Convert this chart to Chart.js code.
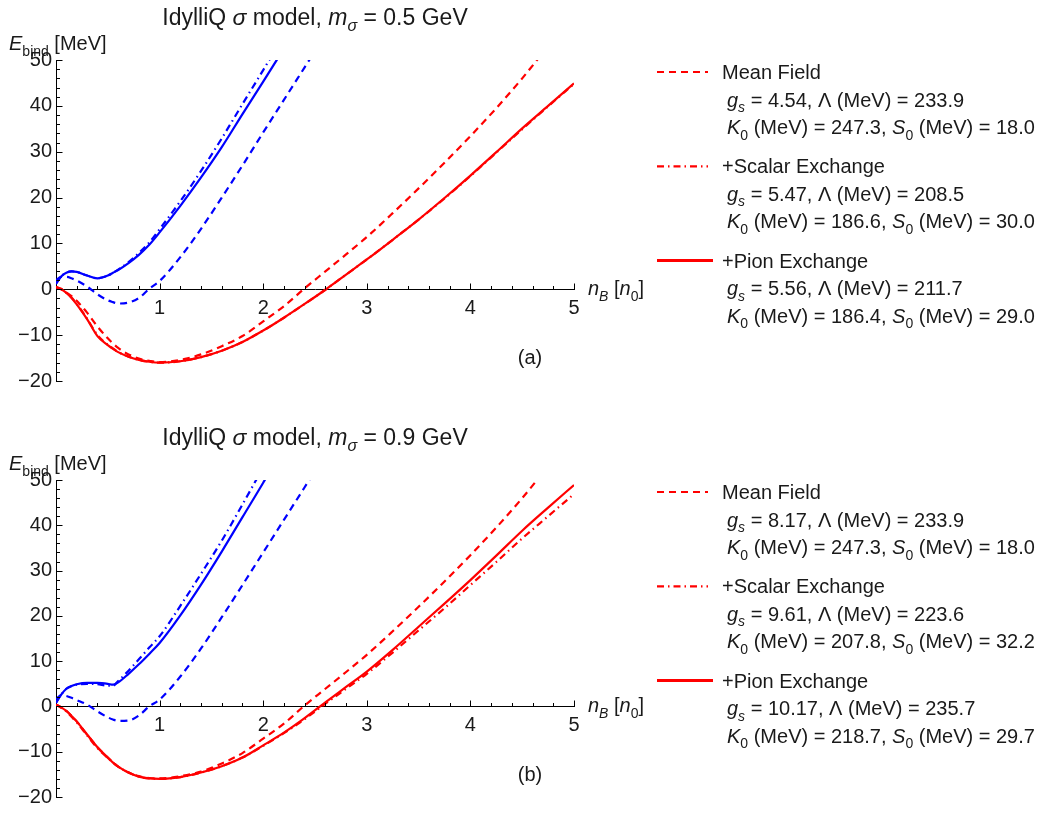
<!DOCTYPE html>
<html>
<head>
<meta charset="utf-8">
<script src="https://cdn.jsdelivr.net/npm/chart.js@4.4.1/dist/chart.umd.min.js"></script>
<style>
  body { margin: 0; background: #fff; }
  #wrap { position: relative; width: 1039px; height: 814px; }
  canvas { position: absolute; left: 0; }
  #chartA { top: 0; }
  #chartB { top: 420px; }
</style>
</head>
<body>
<div id="wrap">
  <canvas id="chartA" width="1039" height="420" style="width:1039px;height:420px"></canvas>
  <canvas id="chartB" width="1039" height="394" style="width:1039px;height:394px"></canvas>
</div>
<script>
// baryon density grid, n_B / n_0
const nB = [0, 0.05, 0.1, 0.15, 0.2, 0.3, 0.4, 0.5, 0.55, 0.6, 0.7, 0.8, 0.9, 1.0,
  1.2, 1.4, 1.6, 1.8, 2.0, 2.2, 2.4, 2.6, 2.8, 3.0, 3.25, 3.5, 3.75, 4.0, 4.25, 4.5, 4.75, 5.0];

// panel (a): m_sigma = 0.5 GeV
const redMeanA = [0.5, 0.1, -0.7, -1.5, -2.5, -5.1, -8.1, -10.7, -11.8, -12.8, -14.2, -15.1, -15.6, -15.9,
  -15.4, -14.2, -12.4, -10.2, -7.0, -3.7, 0.2, 3.9, 7.6, 11.4, 16.6, 22.0, 27.6, 33.4, 39.5, 46.0, 53.0];
const redScalarA = [0.5, 0.0, -0.8, -1.8, -3.2, -6.4, -10.0, -12.1, -12.9, -13.7, -14.7, -15.4, -15.8, -16.0,
  -15.7, -14.8, -13.4, -11.5, -9.0, -6.2, -3.2, -0.1, 3.2, 6.5, 10.8, 15.2, 19.8, 24.7, 29.8, 34.9, 39.9, 44.8];
const redPionA = [0.5, 0.0, -0.8, -1.9, -3.3, -6.5, -10.2, -12.2, -13.0, -13.7, -14.7, -15.4, -15.8, -16.0,
  -15.7, -14.8, -13.4, -11.5, -9.0, -6.2, -3.2, -0.1, 3.2, 6.5, 10.8, 15.2, 19.9, 24.8, 29.9, 35.1, 40.0, 44.9];
const blueMeanA = [2.0, 2.7, 2.7, 2.4, 1.9, 0.6, -1.1, -2.4, -2.8, -3.1, -2.9, -1.9, 0.1, 1.8,
  7.0, 13.2, 20.0, 27.0, 34.2, 41.3, 48.4, 55.5];
const blueScalarA = [1.2, 2.8, 3.6, 3.9, 3.8, 3.0, 2.4, 3.0, 3.6, 4.3, 5.9, 7.9, 10.2, 13.1,
  19.2, 25.8, 32.9, 40.4, 47.8, 55.4];
const bluePionA = [1.2, 2.8, 3.6, 3.9, 3.8, 3.0, 2.4, 3.0, 3.6, 4.2, 5.7, 7.5, 9.7, 12.4,
  18.2, 24.4, 31.0, 38.2, 45.3, 52.5];

// panel (b): m_sigma = 0.9 GeV
const redMeanB = [0.4, -0.2, -1.0, -2.1, -3.3, -6.2, -9.0, -11.3, -12.3, -13.3, -14.6, -15.4, -15.8, -15.9,
  -15.4, -14.4, -12.6, -10.3, -7.1, -3.8, 0.2, 3.9, 7.6, 11.4, 16.6, 22.0, 27.6, 33.4, 39.5, 46.0, 53.0];
const redScalarB = [0.4, -0.3, -1.1, -2.3, -3.5, -6.4, -9.2, -11.4, -12.4, -13.3, -14.6, -15.5, -15.9, -16.0,
  -15.6, -14.6, -13.2, -11.3, -8.7, -5.9, -2.8, 0.6, 3.9, 7.2, 11.9, 16.8, 21.7, 26.8, 31.9, 37.1, 42.0, 46.9];
const redPionB = [0.4, -0.2, -1.0, -2.1, -3.3, -6.2, -9.0, -11.3, -12.4, -13.3, -14.6, -15.5, -15.9, -16.0,
  -15.6, -14.6, -13.2, -11.3, -8.6, -5.8, -2.6, 0.9, 4.3, 7.7, 12.5, 17.6, 22.7, 27.9, 33.3, 38.8, 43.9, 48.9];
const blueMeanB = [1.6, 2.5, 2.3, 1.9, 1.4, 0.4, -1.1, -2.4, -2.9, -3.2, -3.1, -2.0, 0.0, 1.5,
  6.6, 12.8, 19.7, 26.8, 34.0, 41.2, 48.4, 55.6];
const blueScalarB = [0.8, 2.6, 3.9, 4.5, 4.8, 5.0, 4.9, 4.6, 4.6, 5.6, 7.9, 10.4, 13.0, 15.5,
  22.2, 29.3, 36.6, 44.6, 52.8];
const bluePionB = [0.8, 2.6, 3.9, 4.5, 4.9, 5.2, 5.2, 5.0, 4.8, 5.3, 7.2, 9.3, 11.6, 14.0,
  20.1, 26.9, 34.2, 41.8, 49.4, 57.3];

// legend entries
const legendNames = ["Mean Field", "+Scalar Exchange", "+Pion Exchange"];
const gsA = ["4.54", "5.47", "5.56"];
const lambdaA = ["233.9", "208.5", "211.7"];
const k0A = ["247.3", "186.6", "186.4"];
const s0A = ["18.0", "30.0", "29.0"];
const gsB = ["8.17", "9.61", "10.17"];
const lambdaB = ["233.9", "223.6", "235.7"];
const k0B = ["247.3", "207.8", "218.7"];
const s0B = ["18.0", "32.2", "29.7"];

const FONT = '"Liberation Sans", Arial, sans-serif';
const TXT = "#1a1a1a";
const RED = "#ff0000";
const BLUE = "#0000ff";
const DASH = [7, 5];
const DASHDOT = [7, 4, 1.5, 4];
const lineStyles = [DASH, DASHDOT, []];

// draw a run of text pieces: [text, style] with style n / i / s / is
function richText(ctx, parts, x, y, size, align) {
  const segs = parts.map(function (p) {
    const sub = p[1] === "s" || p[1] === "is";
    const it = p[1] === "i" || p[1] === "is";
    const fs = sub ? size * 0.7 : size;
    const font = (it ? "italic " : "") + fs + "px " + FONT;
    ctx.font = font;
    return { t: p[0], font: font, w: ctx.measureText(p[0]).width, dy: sub ? size * 0.28 : 0 };
  });
  const total = segs.reduce(function (a, s) { return a + s.w; }, 0);
  let cx = align === "center" ? x - total / 2 : x;
  ctx.textAlign = "left";
  ctx.textBaseline = "alphabetic";
  ctx.fillStyle = TXT;
  for (var i = 0; i < segs.length; i++) {
    ctx.font = segs[i].font;
    ctx.fillText(segs[i].t, cx, y + segs[i].dy);
    cx += segs[i].w;
  }
}

function ds(label, arr, color, dash) {
  return {
    label: label,
    data: nB.map(function (x, i) { return { x: x, y: arr[i] }; })
      .filter(function (p) { return p.y !== undefined && p.y !== null; }),
    borderColor: color,
    borderWidth: 2.2,
    borderDash: dash,
    pointRadius: 0,
    fill: false,
    cubicInterpolationMode: "monotone",
    clip: 0,
  };
}

// Mathematica-like inward ticks, major and minor
const axisTicks = {
  id: "axisTicks",
  afterDraw(chart) {
    const ctx = chart.ctx;
    const x = chart.scales.x, y = chart.scales.y;
    const y0 = Math.round(y.getPixelForValue(0)) + 0.5;
    const x0 = Math.round(x.getPixelForValue(0)) + 0.5;
    ctx.save();
    ctx.strokeStyle = "#000";
    ctx.lineWidth = 1;
    ctx.beginPath();
    for (let k = 1; k <= 25; k++) {
      const px = Math.round(x.getPixelForValue(k / 5)) + 0.5;
      const len = k % 5 === 0 ? 6 : 3.5;
      ctx.moveTo(px, y0);
      ctx.lineTo(px, y0 - len);
    }
    for (let k = -10; k <= 25; k++) {
      const py = Math.round(y.getPixelForValue(k * 2)) + 0.5;
      const len = k % 5 === 0 ? 6 : 3.5;
      ctx.moveTo(x0, py);
      ctx.lineTo(x0 + len, py);
    }
    ctx.stroke();
    ctx.restore();
  },
};

function makePanel(canvasId, height, series, mSigma, tag, gs, lam, k0, s0) {
  const panelText = {
    id: "panelText",
    afterDraw(chart) {
      const ctx = chart.ctx;
      const area = chart.chartArea;
      const y0 = chart.scales.y.getPixelForValue(0);
      ctx.save();
      // title
      richText(ctx, [["IdylliQ ", "n"], ["\u03c3", "i"], [" model, ", "n"], ["m", "i"], ["\u03c3", "is"],
        [" = " + mSigma + " GeV", "n"]], (area.left + area.right) / 2, 25, 23, "center");
      // axis labels
      richText(ctx, [["E", "i"], ["bind", "s"], [" [MeV]", "n"]], 9, 50, 20, "left");
      richText(ctx, [["n", "i"], ["B", "is"], [" [", "n"], ["n", "i"], ["0", "s"], ["]", "n"]],
        area.right + 14, y0 + 6, 20, "left");
      richText(ctx, [[tag, "n"]], 530, y0 + 75, 20, "center");
      // legend
      for (let k = 0; k < 3; k++) {
        const cy = 72 + 94.3 * k;
        ctx.save();
        ctx.strokeStyle = RED;
        ctx.lineWidth = k === 2 ? 3 : 2.2;
        ctx.setLineDash(lineStyles[k]);
        ctx.beginPath();
        ctx.moveTo(657, cy);
        ctx.lineTo(k === 2 ? 713 : 708, cy);
        ctx.stroke();
        ctx.restore();
        richText(ctx, [[legendNames[k], "n"]], 722, cy + 7, 20, "left");
        richText(ctx, [["g", "i"], ["s", "is"], [" = " + gs[k] + ", \u039b (MeV) = " + lam[k], "n"]],
          727, cy + 34.5, 20, "left");
        richText(ctx, [["K", "i"], ["0", "s"], [" (MeV) = " + k0[k] + ", ", "n"], ["S", "i"], ["0", "s"],
          [" (MeV) = " + s0[k], "n"]], 727, cy + 62, 20, "left");
      }
      ctx.restore();
    },
  };

  return new Chart(document.getElementById(canvasId).getContext("2d"), {
    type: "line",
    data: {
      datasets: [
        ds("Mean Field (blue)", series[3], BLUE, DASH),
        ds("+Scalar Exchange (blue)", series[4], BLUE, DASHDOT),
        ds("+Pion Exchange (blue)", series[5], BLUE, []),
        ds("Mean Field", series[0], RED, DASH),
        ds("+Scalar Exchange", series[1], RED, DASHDOT),
        ds("+Pion Exchange", series[2], RED, []),
      ],
    },
    options: {
      responsive: false,
      animation: false,
      layout: { padding: { left: 0, top: 60, right: 465, bottom: height === 420 ? 39 : 17 } },
      plugins: { legend: { display: false }, tooltip: { enabled: false } },
      scales: {
        x: {
          type: "linear",
          min: 0,
          max: 5,
          position: { y: 0 },
          grid: { display: true, drawOnChartArea: false, drawTicks: false },
          border: { display: true, color: "#000", width: 1 },
          ticks: {
            stepSize: 1,
            padding: 7,
            color: TXT,
            font: { family: FONT, size: 20 },
            maxRotation: 0,
            callback: function (v) { return v === 0 ? "" : String(v); },
          },
        },
        y: {
          type: "linear",
          min: -20,
          max: 50,
          position: "left",
          afterFit: function (scale) { scale.width = 56; },
          grid: { display: true, drawOnChartArea: false, drawTicks: false },
          border: { display: true, color: "#000", width: 1 },
          ticks: {
            stepSize: 10,
            padding: 4,
            color: TXT,
            font: { family: FONT, size: 20 },
            callback: function (v) { return String(v).replace("-", "\u2212"); },
          },
        },
      },
    },
    plugins: [axisTicks, panelText],
  });
}

makePanel("chartA", 420, [redMeanA, redScalarA, redPionA, blueMeanA, blueScalarA, bluePionA],
  "0.5", "(a)", gsA, lambdaA, k0A, s0A);
makePanel("chartB", 394, [redMeanB, redScalarB, redPionB, blueMeanB, blueScalarB, bluePionB],
  "0.9", "(b)", gsB, lambdaB, k0B, s0B);
</script>
</body>
</html>
